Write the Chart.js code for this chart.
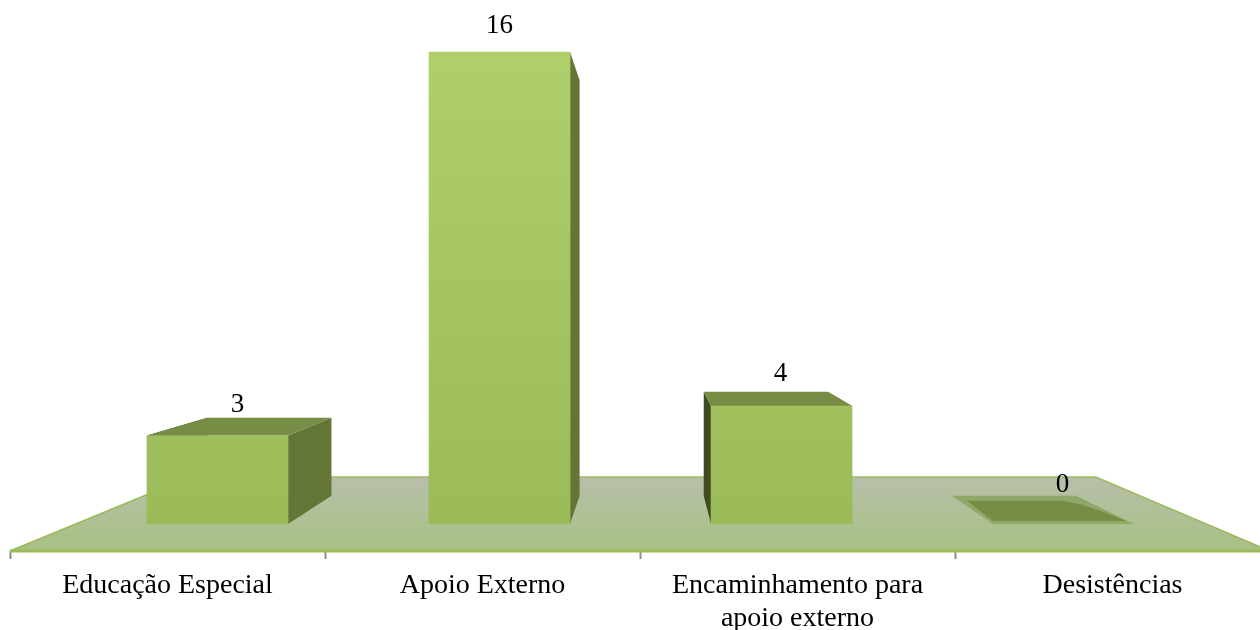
<!DOCTYPE html>
<html>
<head>
<meta charset="utf-8">
<title>Encaminhamentos</title>
<script src="https://cdn.jsdelivr.net/npm/chart.js@4"></script>
<style>
  html, body { margin: 0; padding: 0; background: #fff; overflow: hidden; }
  #wrap { width: 1270px; height: 630px; }
</style>
</head>
<body>
<div id="wrap"><canvas id="chart" width="1270" height="630"></canvas></div>
<script>
const categories = ["Educação Especial", "Apoio Externo", ["Encaminhamento para", "apoio externo"], "Desistências"];
const seriesValues = [3, 16, 4, 0];
const barSlots = [0, 1, 2, 3];

const FONT = '"Liberation Serif", serif';

// =========================
// PERSPECTIVE HELPERS
// =========================
const VP_X = 650;
const VP_Y = 288;
const BAR_DEPTH = 0.12;
const FLOOR_DEPTH = 0.281;

function back(x, y, k) {
  return [x + (VP_X - x) * k, y + (VP_Y - y) * k];
}

function fillPoly(ctx, pts, color) {
  ctx.beginPath();
  pts.forEach((p, i) => (i ? ctx.lineTo(p[0], p[1]) : ctx.moveTo(p[0], p[1])));
  ctx.closePath();
  ctx.fillStyle = color;
  ctx.fill();
}

const scene3d = {
  id: "scene3d",
  beforeDatasetsDraw(chart) {
    const ctx = chart.ctx;
    const a = chart.chartArea;
    ctx.save();

    // floor
    const fl = [a.left, a.bottom];
    const fr = [a.right, a.bottom];
    const bl = back(a.left, a.bottom, FLOOR_DEPTH);
    const br = back(a.right, a.bottom, FLOOR_DEPTH);
    const grad = ctx.createLinearGradient(0, bl[1], 0, a.bottom);
    grad.addColorStop(0, "#b8bfaa");
    grad.addColorStop(1, "#a7c183");
    fillPoly(ctx, [fl, bl, br, fr], grad);

    ctx.strokeStyle = "#9bbb59";
    ctx.lineWidth = 1.5;
    ctx.beginPath();
    ctx.moveTo(fl[0], fl[1]);
    ctx.lineTo(bl[0], bl[1]);
    ctx.lineTo(br[0], br[1]);
    ctx.lineTo(fr[0], fr[1]);
    ctx.stroke();
    ctx.lineWidth = 3;
    ctx.beginPath();
    ctx.moveTo(a.left, a.bottom);
    ctx.lineTo(a.right, a.bottom);
    ctx.stroke();

    // bar sides and tops
    chart.getDatasetMeta(0).data.forEach((bar) => {
      const x0 = bar.x - bar.width / 2;
      const x1 = bar.x + bar.width / 2;
      const yT = bar.y;
      const yB = bar.base;
      const tl = back(x0, yT, BAR_DEPTH);
      const tr = back(x1, yT, BAR_DEPTH);
      const dl = back(x0, yB, BAR_DEPTH);
      const dr = back(x1, yB, BAR_DEPTH);

      if (yB - yT < 1) {
        // zero value: only a flat plate on the floor
        fillPoly(ctx, [[x0, yB], tl, tr, [x1, yB]], "#8fa86a");
        ctx.beginPath();
        ctx.moveTo(x0, yB - 3);
        ctx.lineTo(tl[0] + 15, tl[1] + 5);
        ctx.lineTo(tr[0] - 17, tr[1] + 5);
        ctx.quadraticCurveTo(tr[0] + 5, tr[1] + 6, x1 - 8, yB - 3);
        ctx.closePath();
        ctx.fillStyle = "#778c44";
        ctx.fill();
        return;
      }
      fillPoly(ctx, [[x0, yT], tl, dl, [x0, yB]], "#3f4c20");
      fillPoly(ctx, [[x1, yT], tr, dr, [x1, yB]], "#647636");
      // the tall bar rises past the horizon, so its top face stays hidden
      if (tl[1] < yT) {
        fillPoly(ctx, [[x0, yT], tl, tr, [x1, yT]], "#778c44");
      }
    });
    ctx.restore();
  },
  afterDatasetsDraw(chart) {
    const ctx = chart.ctx;
    const labelNudge = [[20, -31], [0, -26], [-1, -32], [-1, -39]];
    ctx.save();
    ctx.fillStyle = "#000";
    ctx.font = "27px " + FONT;
    ctx.textAlign = "center";
    ctx.textBaseline = "middle";
    chart.getDatasetMeta(0).data.forEach((bar, i) => {
      ctx.fillText(String(seriesValues[i]), bar.x + labelNudge[i][0], bar.y + labelNudge[i][1]);
    });
    ctx.restore();
  }
};

// =========================
// CHART
// =========================
const ctx = document.getElementById("chart").getContext("2d");

const frontFill = ctx.createLinearGradient(0, 52, 0, 524);
frontFill.addColorStop(0, "#aecf6c");
frontFill.addColorStop(1, "#9bbb59");

new Chart(ctx, {
  type: "bar",
  data: {
    labels: categories,
    datasets: [{
      xAxisID: "xBars",
      yAxisID: "y",
      data: barSlots.map((slot, i) => ({ x: slot, y: seriesValues[i] })),
      backgroundColor: frontFill,
      borderWidth: 0,
      barThickness: 141
    }]
  },
  plugins: [scene3d],
  options: {
    responsive: false,
    animation: false,
    layout: { padding: { left: 10, right: 0, top: 0, bottom: 0 } },
    plugins: { legend: { display: false }, tooltip: { enabled: false } },
    scales: {
      x: {
        type: "category",
        offset: true,
        afterFit(scale) { scale.height = 79; },
        border: { display: false },
        grid: {
          offset: true,
          drawOnChartArea: false,
          color: "#8c8c8c",
          tickLength: 8,
          tickWidth: 2
        },
        ticks: {
          autoSkip: false,
          maxRotation: 0,
          padding: 11,
          color: "#000",
          font: { family: FONT, size: 28, lineHeight: 1.15 }
        }
      },
      xBars: {
        type: "linear",
        display: false,
        offset: false,
        min: -0.7358,
        max: 3.732
      },
      y: {
        display: false,
        min: -0.915,
        max: 17.763
      }
    }
  }
});
</script>
</body>
</html>
